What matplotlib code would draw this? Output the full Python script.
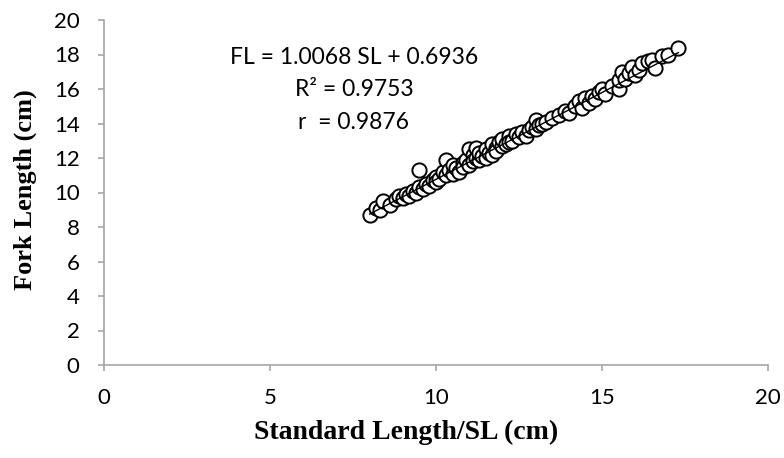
import matplotlib.pyplot as plt
import numpy as np

# standard length (cm) and fork length (cm)
sl = [8.0, 8.2, 8.3, 8.4, 8.6, 8.8, 8.9, 9.0, 9.1, 9.2, 9.3, 9.4, 9.5, 9.5,
      9.6, 9.7, 9.8, 9.9, 10.0, 10.0, 10.1, 10.2, 10.3, 10.3, 10.4, 10.5,
      10.5, 10.6, 10.7, 10.8, 10.8, 10.9, 11.0, 11.0, 11.1, 11.1, 11.2, 11.2,
      11.3, 11.3, 11.4, 11.5, 11.5, 11.6, 11.7, 11.7, 11.8, 11.8, 11.9, 12.0,
      12.0, 12.1, 12.2, 12.2, 12.3, 12.4, 12.5, 12.6, 12.7, 12.8, 12.9, 13.0,
      13.0, 13.1, 13.2, 13.3, 13.5, 13.7, 13.9, 14.0, 14.2, 14.3, 14.4, 14.5,
      14.6, 14.7, 14.8, 14.9, 15.0, 15.1, 15.3, 15.5, 15.5, 15.6, 15.7, 15.8,
      15.9, 16.0, 16.1, 16.2, 16.4, 16.5, 16.6, 16.8, 17.0, 17.3]
fl = [8.7, 9.1, 9.0, 9.5, 9.3, 9.6, 9.8, 9.7, 9.9, 9.8, 10.1, 10.0, 11.3, 10.3,
      10.2, 10.5, 10.4, 10.7, 10.9, 10.6, 10.8, 11.2, 11.0, 11.9, 11.3, 11.1,
      11.6, 11.4, 11.2, 11.7, 11.5, 11.9, 12.5, 11.6, 12.2, 11.8, 12.0, 12.6,
      11.9, 12.3, 12.1, 12.5, 12.0, 12.3, 12.8, 12.2, 12.6, 12.4, 12.9, 12.7,
      13.1, 12.8, 13.3, 12.9, 13.0, 13.4, 13.2, 13.5, 13.3, 13.6, 13.8, 14.2,
      13.7, 13.9, 14.0, 14.1, 14.3, 14.5, 14.7, 14.6, 15.0, 15.3, 14.9, 15.5,
      15.2, 15.6, 15.4, 15.8, 16.0, 15.7, 16.2, 16.0, 16.5, 17.0, 16.6, 16.9,
      17.3, 16.8, 17.1, 17.5, 17.6, 17.7, 17.2, 17.9, 18.0, 18.4]

slope = 1.0068
intercept = 0.6936
eq_lines = ["FL = 1.0068 SL + 0.6936", "R² = 0.9753", "r  = 0.9876"]

W, H = 784, 458
fig = plt.figure(figsize=(W / 100, H / 100), dpi=100)
ax = fig.add_axes([104 / W, 1 - 365 / H, 664 / W, 345 / H])

ax.scatter(sl, fl, s=105, facecolors="white", edgecolors="black",
           linewidths=1.4, zorder=2)
xs = np.array([min(sl), max(sl)])
ax.plot(xs, slope * xs + intercept, color="black", lw=1.0, zorder=3)

ax.set_xlim(0, 20)
ax.set_ylim(0, 20)
ax.set_xticks(range(0, 21, 5))
ax.set_yticks(range(0, 21, 2))

for side in ["top", "right"]:
    ax.spines[side].set_visible(False)
for side in ["left", "bottom"]:
    ax.spines[side].set_color("#a6a6a6")
    ax.spines[side].set_linewidth(1.2)
ax.tick_params(colors="#a6a6a6", labelcolor="black", length=4.5, width=1.2,
               labelsize=16)
ax.tick_params(axis="x", pad=12)
ax.tick_params(axis="y", pad=13)
for lab in ax.get_xticklabels() + ax.get_yticklabels():
    lab.set_family("Lato")

fig.text(406 / W, 1 - 432 / H, "Standard Length/SL (cm)",
         family="Liberation Serif", weight="bold", fontsize=20,
         ha="center", va="center")
fig.text(25 / W, 1 - 190 / H, "Fork Length (cm)", rotation=90,
         family="Liberation Serif", weight="bold", fontsize=19,
         ha="center", va="center")

for i, line in enumerate(eq_lines):
    fig.text(354 / W, 1 - (58 + 32 * i) / H, line, ha="center",
             va="center", family="Lato", fontsize=16.5)

fig.savefig("out.png", dpi=100)
